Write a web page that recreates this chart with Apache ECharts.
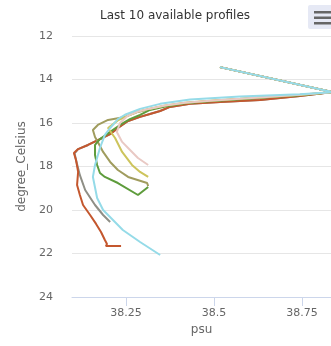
<!DOCTYPE html>
<html>
<head>
<meta charset="utf-8">
<script src="https://cdn.jsdelivr.net/npm/echarts@6/dist/echarts.min.js"></script>
<style>html,body{margin:0;padding:0;background:#fff}#c{width:331px;height:346px}</style>
</head>
<body>
<div id="c"></div>
<script>
// Tick labels
const xTicks = [38.25, 38.5, 38.75];
const yTicks = [12, 14, 16, 18, 20, 22, 24];

// Profiles: [salinity (psu), temperature (degree_Celsius)]
const profileGray = [[38.517,13.43],[38.838,14.58],[38.744,14.76],[38.631,14.94],[38.517,15.03],[38.432,15.12],[38.375,15.26],[38.347,15.45],[38.318,15.59],[38.29,15.72],[38.256,15.91],[38.227,16.23],[38.205,16.51],[38.176,16.74],[38.142,17.01],[38.114,17.2],[38.104,17.4],[38.108,17.7],[38.119,18.4],[38.134,19.08],[38.162,19.77],[38.185,20.23],[38.205,20.55]];
const profileBrown = [[38.517,13.43],[38.838,14.58],[38.744,14.76],[38.631,14.94],[38.517,15.03],[38.432,15.12],[38.375,15.26],[38.347,15.45],[38.318,15.59],[38.29,15.72],[38.256,15.91],[38.227,16.23],[38.205,16.51],[38.176,16.74],[38.142,17.01],[38.114,17.2],[38.102,17.38],[38.108,17.7],[38.114,18.25],[38.111,18.85],[38.119,19.31],[38.128,19.77],[38.148,20.23],[38.165,20.64],[38.179,21.01],[38.19,21.38],[38.196,21.56],[38.193,21.66],[38.236,21.66]];
const profileOlive = [[38.517,13.43],[38.838,14.58],[38.744,14.71],[38.659,14.8],[38.574,14.9],[38.489,14.99],[38.418,15.08],[38.361,15.22],[38.318,15.36],[38.284,15.49],[38.247,15.72],[38.199,15.86],[38.17,16.09],[38.156,16.32],[38.162,16.64],[38.17,16.87],[38.185,17.33],[38.205,17.79],[38.227,18.16],[38.256,18.48],[38.31,18.76],[38.313,18.9]];
const profileGreen = [[38.517,13.43],[38.838,14.58],[38.744,14.72],[38.659,14.81],[38.574,14.91],[38.489,15.0],[38.418,15.09],[38.361,15.24],[38.318,15.4],[38.29,15.63],[38.261,15.82],[38.233,16.09],[38.205,16.41],[38.176,16.74],[38.162,17.01],[38.162,17.47],[38.168,17.93],[38.176,18.3],[38.19,18.48],[38.227,18.76],[38.284,19.31],[38.313,18.94]];
const profileKhaki = [[38.517,13.43],[38.838,14.58],[38.744,14.7],[38.659,14.79],[38.574,14.89],[38.489,14.98],[38.418,15.07],[38.361,15.2],[38.318,15.34],[38.284,15.47],[38.256,15.66],[38.227,15.88],[38.199,16.23],[38.219,16.69],[38.239,17.33],[38.267,17.93],[38.29,18.25],[38.313,18.48]];
const profilePink = [[38.517,13.43],[38.838,14.58],[38.744,14.7],[38.659,14.79],[38.574,14.89],[38.489,14.98],[38.418,15.07],[38.361,15.2],[38.318,15.34],[38.284,15.47],[38.256,15.66],[38.233,16.0],[38.224,16.41],[38.239,16.87],[38.256,17.15],[38.284,17.61],[38.313,17.93]];
const profileCyan = [[38.517,13.43],[38.838,14.58],[38.744,14.68],[38.574,14.78],[38.432,14.92],[38.347,15.12],[38.29,15.35],[38.247,15.62],[38.227,15.82],[38.205,16.23],[38.19,16.55],[38.176,17.15],[38.162,17.93],[38.156,18.48],[38.168,19.45],[38.185,20.0],[38.213,20.46],[38.241,20.92],[38.29,21.47],[38.347,22.07]];

const profiles = [
  {data: profileGray, color: '#8f8f86'},
  {data: profileBrown, color: '#c4572e'},
  {data: profileOlive, color: '#a09c5e'},
  {data: profileGreen, color: '#5e9c3c'},
  {data: profileKhaki, color: '#cdc45c'},
  {data: profilePink, color: '#e9c9c4'},
  {data: profileCyan, color: '#95dbe8'}
];

const chart = echarts.init(document.getElementById('c'), null, {renderer: 'canvas'});
const font = 'DejaVu Sans';
chart.setOption({
  animation: false,
  backgroundColor: '#ffffff',
  title: {
    text: 'Last 10 available profiles',
    left: 175, top: 10, padding: 0, textAlign: 'center',
    textStyle: {fontFamily: font, fontSize: 12, fontWeight: 'normal', color: '#333333'}
  },
  grid: {left: 72, right: 0, top: 36, bottom: 49, containLabel: false},
  xAxis: {
    type: 'value', min: 38.0966, max: 38.8324,
    name: 'psu', nameLocation: 'middle', nameGap: 26,
    nameTextStyle: {fontFamily: font, fontSize: 12, color: '#666666'},
    axisLine: {show: true, lineStyle: {color: '#ccd6eb', width: 1}},
    axisTick: {show: true, length: 9, customValues: xTicks, lineStyle: {color: '#ccd6eb'}},
    axisLabel: {customValues: xTicks, margin: 11, fontFamily: font, fontSize: 11, color: '#666666'},
    splitLine: {show: false}
  },
  yAxis: {
    type: 'value', inverse: true, min: 12, max: 24, interval: 2,
    name: 'degree_Celsius', nameLocation: 'middle', nameGap: 40, nameRotate: 90,
    nameTextStyle: {fontFamily: font, fontSize: 12, color: '#666666'},
    axisLine: {show: false}, axisTick: {show: false},
    axisLabel: {margin: 19, fontFamily: font, fontSize: 11, color: '#666666'},
    splitLine: {show: true, lineStyle: {color: '#e6e6e6', width: 1}}
  },
  series: profiles.map(p => ({
    type: 'line', data: p.data, showSymbol: false, symbol: 'none',
    lineStyle: {color: p.color, width: 2}, itemStyle: {color: p.color},
    clip: true, silent: true
  })),
  graphic: [
    {type: 'rect', shape: {x: 308, y: 5, width: 28, height: 24, r: 2}, style: {fill: '#e6e9f5'}},
    {type: 'rect', shape: {x: 314, y: 11, width: 20, height: 2.5}, style: {fill: '#666666'}},
    {type: 'rect', shape: {x: 314, y: 16.5, width: 20, height: 2.5}, style: {fill: '#666666'}},
    {type: 'rect', shape: {x: 314, y: 22, width: 20, height: 2.5}, style: {fill: '#666666'}}
  ]
});
</script>
</body>
</html>
